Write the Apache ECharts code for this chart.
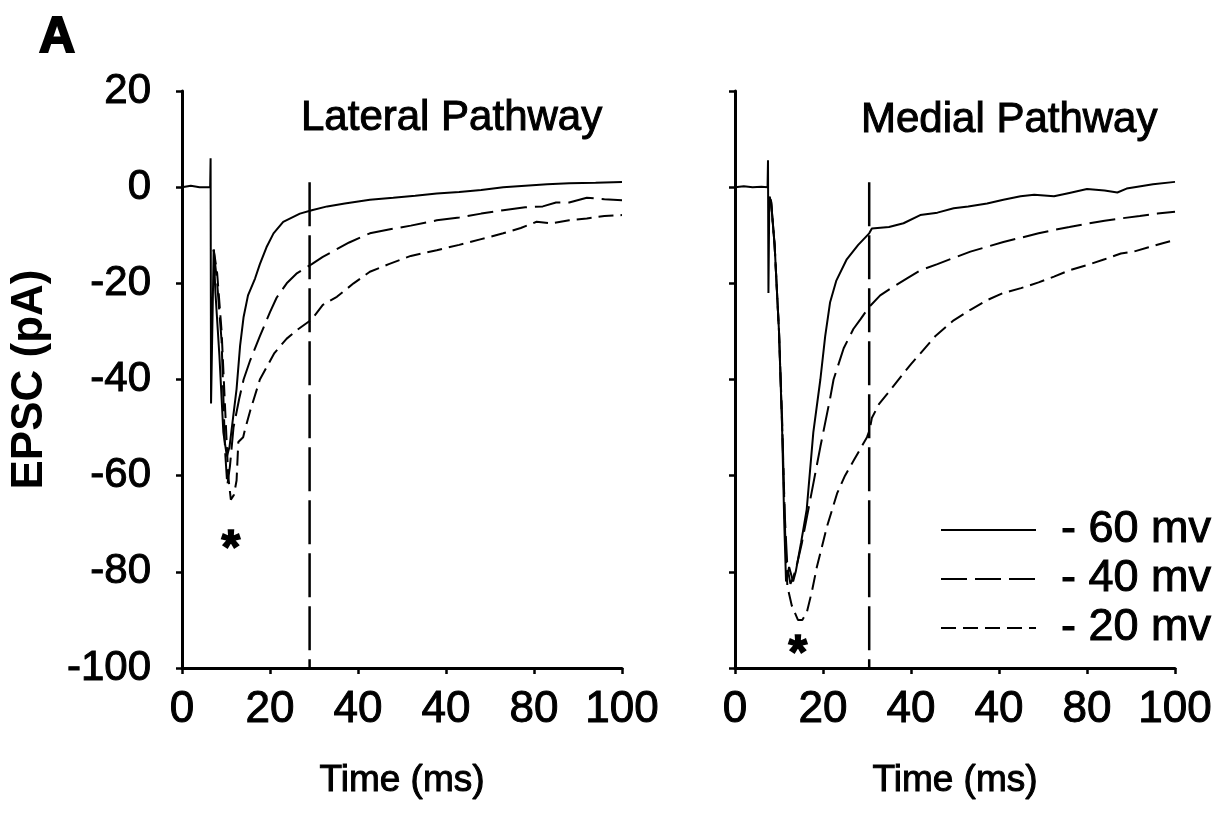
<!DOCTYPE html>
<html>
<head>
<meta charset="utf-8">
<script src="https://cdn.jsdelivr.net/npm/echarts/dist/echarts.min.js"></script>
<style>
  html, body { margin: 0; padding: 0; background: #ffffff; }
  #chart { width: 1230px; height: 814px; }
</style>
</head>
<body>
<div id="chart"></div>
<script>
// Panel titles and legend names
const panelTitles = ['Lateral Pathway', 'Medial Pathway'];
const holdingLabels = ['- 60 mv', '- 40 mv', '- 20 mv'];

// Axis ticks (the printed time labels, as they appear on the figure)
const timeTickLabels = ['0', '20', '40', '40', '80', '100'];
const currentTicks = [-100, -80, -60, -40, -20, 0, 20];

// Lateral pathway traces: [time ms, current pA]
const lateral60 = [[0,0],[2,0.3],[4,0],[6.4,0],[6.5,6],[6.6,-45],[7.2,-13],[7.6,-22],[8.5,-35],[9.4,-51],[10.2,-56],
  [10.8,-54],[11.6,-48],[12.4,-42],[13.2,-33],[14,-27],[15,-22.5],[16.6,-19],[17.7,-16],[19.2,-12.5],[20.8,-9.6],
  [23,-7.2],[26.8,-5.5],[29.5,-4.8],[33,-4],[37,-3.4],[42.7,-2.6],[48,-2.2],[53,-1.8],[57.9,-1.3],[63,-1],
  [68,-0.6],[73,0],[78,0.3],[83,0.6],[88,0.8],[94,0.9],[100,1.1]];
const lateral40 = [[7.2,-13],[8,-20],[9,-32],[9.8,-55],[10.3,-62],[10.9,-58],[11.7,-50],[13,-44],[14,-40],[15.5,-36],
  [17.7,-31],[20,-26],[21.5,-23],[23.8,-20],[26,-18],[29.5,-16],[32,-14.5],[35,-13],[38,-11.5],[42.7,-9.6],
  [47,-8.8],[52,-8],[57.9,-6.9],[63,-6.3],[68,-5.5],[73,-4.8],[78,-4.2],[82,-4],[85,-3.2],[88,-3.2],[92,-2.2],
  [96,-2.5],[100,-2.7]];
const lateral20 = [[7.2,-13],[8,-18],[9,-30],[10,-50],[10.5,-60],[11.1,-65],[11.8,-64],[12.4,-61],[12.8,-53],
  [13.9,-52],[14.3,-50.5],[15.5,-46.5],[17.7,-40],[19.2,-37.5],[21,-34.5],[23.8,-31.5],[26,-29.8],[29.5,-27.5],
  [32,-24.5],[35.2,-22.8],[39,-20],[42.7,-17.6],[47,-16],[52,-14.3],[57.9,-13.1],[63,-12],[68,-10.8],[73,-9.6],
  [77,-8.5],[80.6,-7.2],[84,-7.5],[88,-6.9],[92,-6.5],[96,-6],[100,-5.8]];

// Medial pathway traces: [time ms, current pA]
const medial60 = [[0,0],[2,0.2],[4,0],[6,0.1],[7.4,0],[7.5,5.6],[7.6,-22],[7.8,-2],[8.2,-3],[9,-12],[10,-30],
  [10.7,-50],[11.2,-70],[11.6,-82],[12.3,-79],[13.2,-82],[13.8,-80],[15,-74],[16.3,-67],[17.8,-51],[19.4,-40],
  [20.5,-31],[21.6,-24],[23,-19.5],[25.4,-15],[28,-12],[30.5,-9.6],[31.1,-8.6],[35,-8.3],[38.3,-7.5],[42.1,-5.8],
  [46,-5.3],[49.7,-4.4],[53,-4],[57.3,-3.4],[61,-2.6],[64.9,-1.9],[68,-1.6],[72.5,-1.9],[76,-1.2],[80,-0.4],
  [84,-0.7],[86.9,-1.1],[89,-0.3],[91.5,0.1],[95,0.6],[100,1.1]];
const medial40 = [[7.8,-2],[8.2,-3],[9,-12],[10,-30],[10.7,-48],[11.3,-68],[11.9,-79],[12.6,-82.5],[13.3,-81],
  [14.2,-78],[15.2,-74],[17.1,-65],[19.4,-54],[21.6,-44],[22.4,-40],[24.7,-33.5],[26.9,-29.5],[28.5,-27.5],
  [30.4,-25],[33,-22.5],[36,-20.7],[39,-19],[42.1,-17.3],[46,-16],[50,-14.6],[53.5,-13.4],[57.3,-12.4],[61,-11.4],
  [65,-10.5],[69,-9.6],[72.5,-8.9],[76,-8.3],[80,-7.6],[84,-7],[87.7,-6.5],[92,-6],[96,-5.5],[100,-5.1]];
const medial20 = [[7.8,-2],[8.2,-3],[9,-12],[10,-30],[10.8,-52],[11.4,-72],[11.9,-83],[12.9,-87],[14.3,-90],
  [15.3,-90],[16.3,-88.5],[17.5,-84],[18.6,-79],[20.9,-70.6],[23.2,-63.7],[25,-60],[27,-56.8],[30,-52],[30.6,-50.5],
  [31.1,-48],[32.8,-45],[34.6,-43],[36.5,-40.8],[38.3,-38.7],[40,-36.8],[42.1,-34.6],[45.5,-31],[49.7,-27.7],
  [53.5,-25.5],[57.3,-23.5],[61,-22],[65,-21],[69,-19.8],[72.5,-18.6],[76,-17.3],[80,-16.2],[84,-15],[87.7,-13.8],
  [91,-13.3],[94,-12.5],[97,-11.7],[100,-11]];

// Measurement cursor time (ms) and its vertical extent (pA), per panel
const cursorTimes = [29, 30.5];
const cursorSpan = [1, -100];

// Peak markers (*) per panel: [time ms, current pA]
const peakMarks = [[11.1, -73.4], [14.3, -95.2]];

const FONT = '"Liberation Sans", Arial, sans-serif';
const INK = '#000000';
const dashStyles = ['solid', [26, 8], [15, 7]];
// a thin outline thickens the printed glyphs slightly
const heavy = { textBorderColor: INK, textBorderWidth: 1 };

const gridBoxes = [
  { left: 182, top: 91, width: 440, height: 577 },
  { left: 735, top: 91, width: 440, height: 577 }
];

function xAxisFor(i) {
  return {
    gridIndex: i, type: 'value', min: 0, max: 100, interval: 20,
    name: 'Time (ms)', nameLocation: 'middle', nameGap: 94,
    nameTextStyle: Object.assign({ fontFamily: FONT, fontSize: 37, color: INK }, heavy),
    axisLine: { show: true, onZero: false, lineStyle: { color: INK, width: 3 } },
    axisTick: { show: true, inside: false, length: 6, lineStyle: { color: INK, width: 2.5 } },
    axisLabel: Object.assign({
      margin: 20, fontFamily: FONT, fontSize: 44, color: INK,
      formatter: v => timeTickLabels[Math.round(v / 20)]
    }, heavy),
    splitLine: { show: false }
  };
}

function yAxisFor(i) {
  const axis = {
    gridIndex: i, type: 'value', min: -100, max: 20, interval: 20,
    axisLine: { show: true, lineStyle: { color: INK, width: 3 } },
    axisTick: { show: true, inside: false, length: 6, lineStyle: { color: INK, width: 2.5 } },
    axisLabel: Object.assign({ show: i === 0, margin: 31, fontFamily: FONT, fontSize: 42, color: INK }, heavy),
    splitLine: { show: false }
  };
  if (i === 0) {
    axis.name = 'EPSC (pA)';
    axis.nameLocation = 'middle';
    axis.nameRotate = 90;
    axis.nameGap = 130;
    axis.nameTextStyle = { fontFamily: FONT, fontSize: 44, fontWeight: 'bold', color: INK };
  }
  return axis;
}

function trace(name, data, panel, styleIdx) {
  return {
    name, type: 'line', xAxisIndex: panel, yAxisIndex: panel, data,
    showSymbol: false, symbol: 'none', smooth: false, animation: false, silent: true,
    lineStyle: { color: INK, width: 2, type: dashStyles[styleIdx] },
    itemStyle: { color: INK }
  };
}

const series = [];
const panels = [[lateral60, lateral40, lateral20], [medial60, medial40, medial20]];
panels.forEach((traces, p) => {
  traces.forEach((d, k) => series.push(trace(holdingLabels[k], d, p, k)));
  // vertical measurement cursor
  series.push({
    type: 'line', xAxisIndex: p, yAxisIndex: p, animation: false, silent: true,
    data: cursorSpan.map(v => [cursorTimes[p], v]),
    showSymbol: false, symbol: 'none',
    lineStyle: { color: INK, width: 2.5, type: [44, 9] }
  });
  // peak marker
  series.push({
    type: 'scatter', xAxisIndex: p, yAxisIndex: p, animation: false, silent: true,
    data: [peakMarks[p]], symbolSize: 2, itemStyle: { color: 'rgba(0,0,0,0)' },
    label: { show: true, position: 'inside', formatter: '*', fontFamily: FONT,
             fontSize: 48, fontWeight: 'bold', color: INK, opacity: 1,
             textBorderColor: INK, textBorderWidth: 1.5, offset: [0, 10] }
  });
});

const chart = echarts.init(document.getElementById('chart'), null, { renderer: 'canvas' });
chart.setOption({
  backgroundColor: '#ffffff',
  animation: false,
  title: [
    { text: panelTitles[0], left: 296, top: 92,
      textStyle: Object.assign({ fontFamily: FONT, fontSize: 42, fontWeight: 'normal', color: INK }, heavy) },
    { text: panelTitles[1], left: 856, top: 94,
      textStyle: Object.assign({ fontFamily: FONT, fontSize: 42, fontWeight: 'normal', color: INK }, heavy) }
  ],
  legend: {
    data: holdingLabels, orient: 'vertical', left: 940, top: 507, padding: 0,
    itemWidth: 95, itemHeight: 14, itemGap: 3, selectedMode: false,
    itemStyle: { opacity: 0 },
    textStyle: Object.assign({ fontFamily: FONT, fontSize: 45, color: INK, lineHeight: 45, padding: [0, 0, 0, 20] }, heavy)
  },
  grid: gridBoxes,
  xAxis: [xAxisFor(0), xAxisFor(1)],
  yAxis: [yAxisFor(0), yAxisFor(1)],
  series,
  graphic: [
    { type: 'text', left: 38, top: 12,
      style: { text: 'A', fontFamily: FONT, fontSize: 50, fontWeight: 'bold', fill: INK,
               stroke: INK, lineWidth: 2 } }
  ]
});
</script>
</body>
</html>
